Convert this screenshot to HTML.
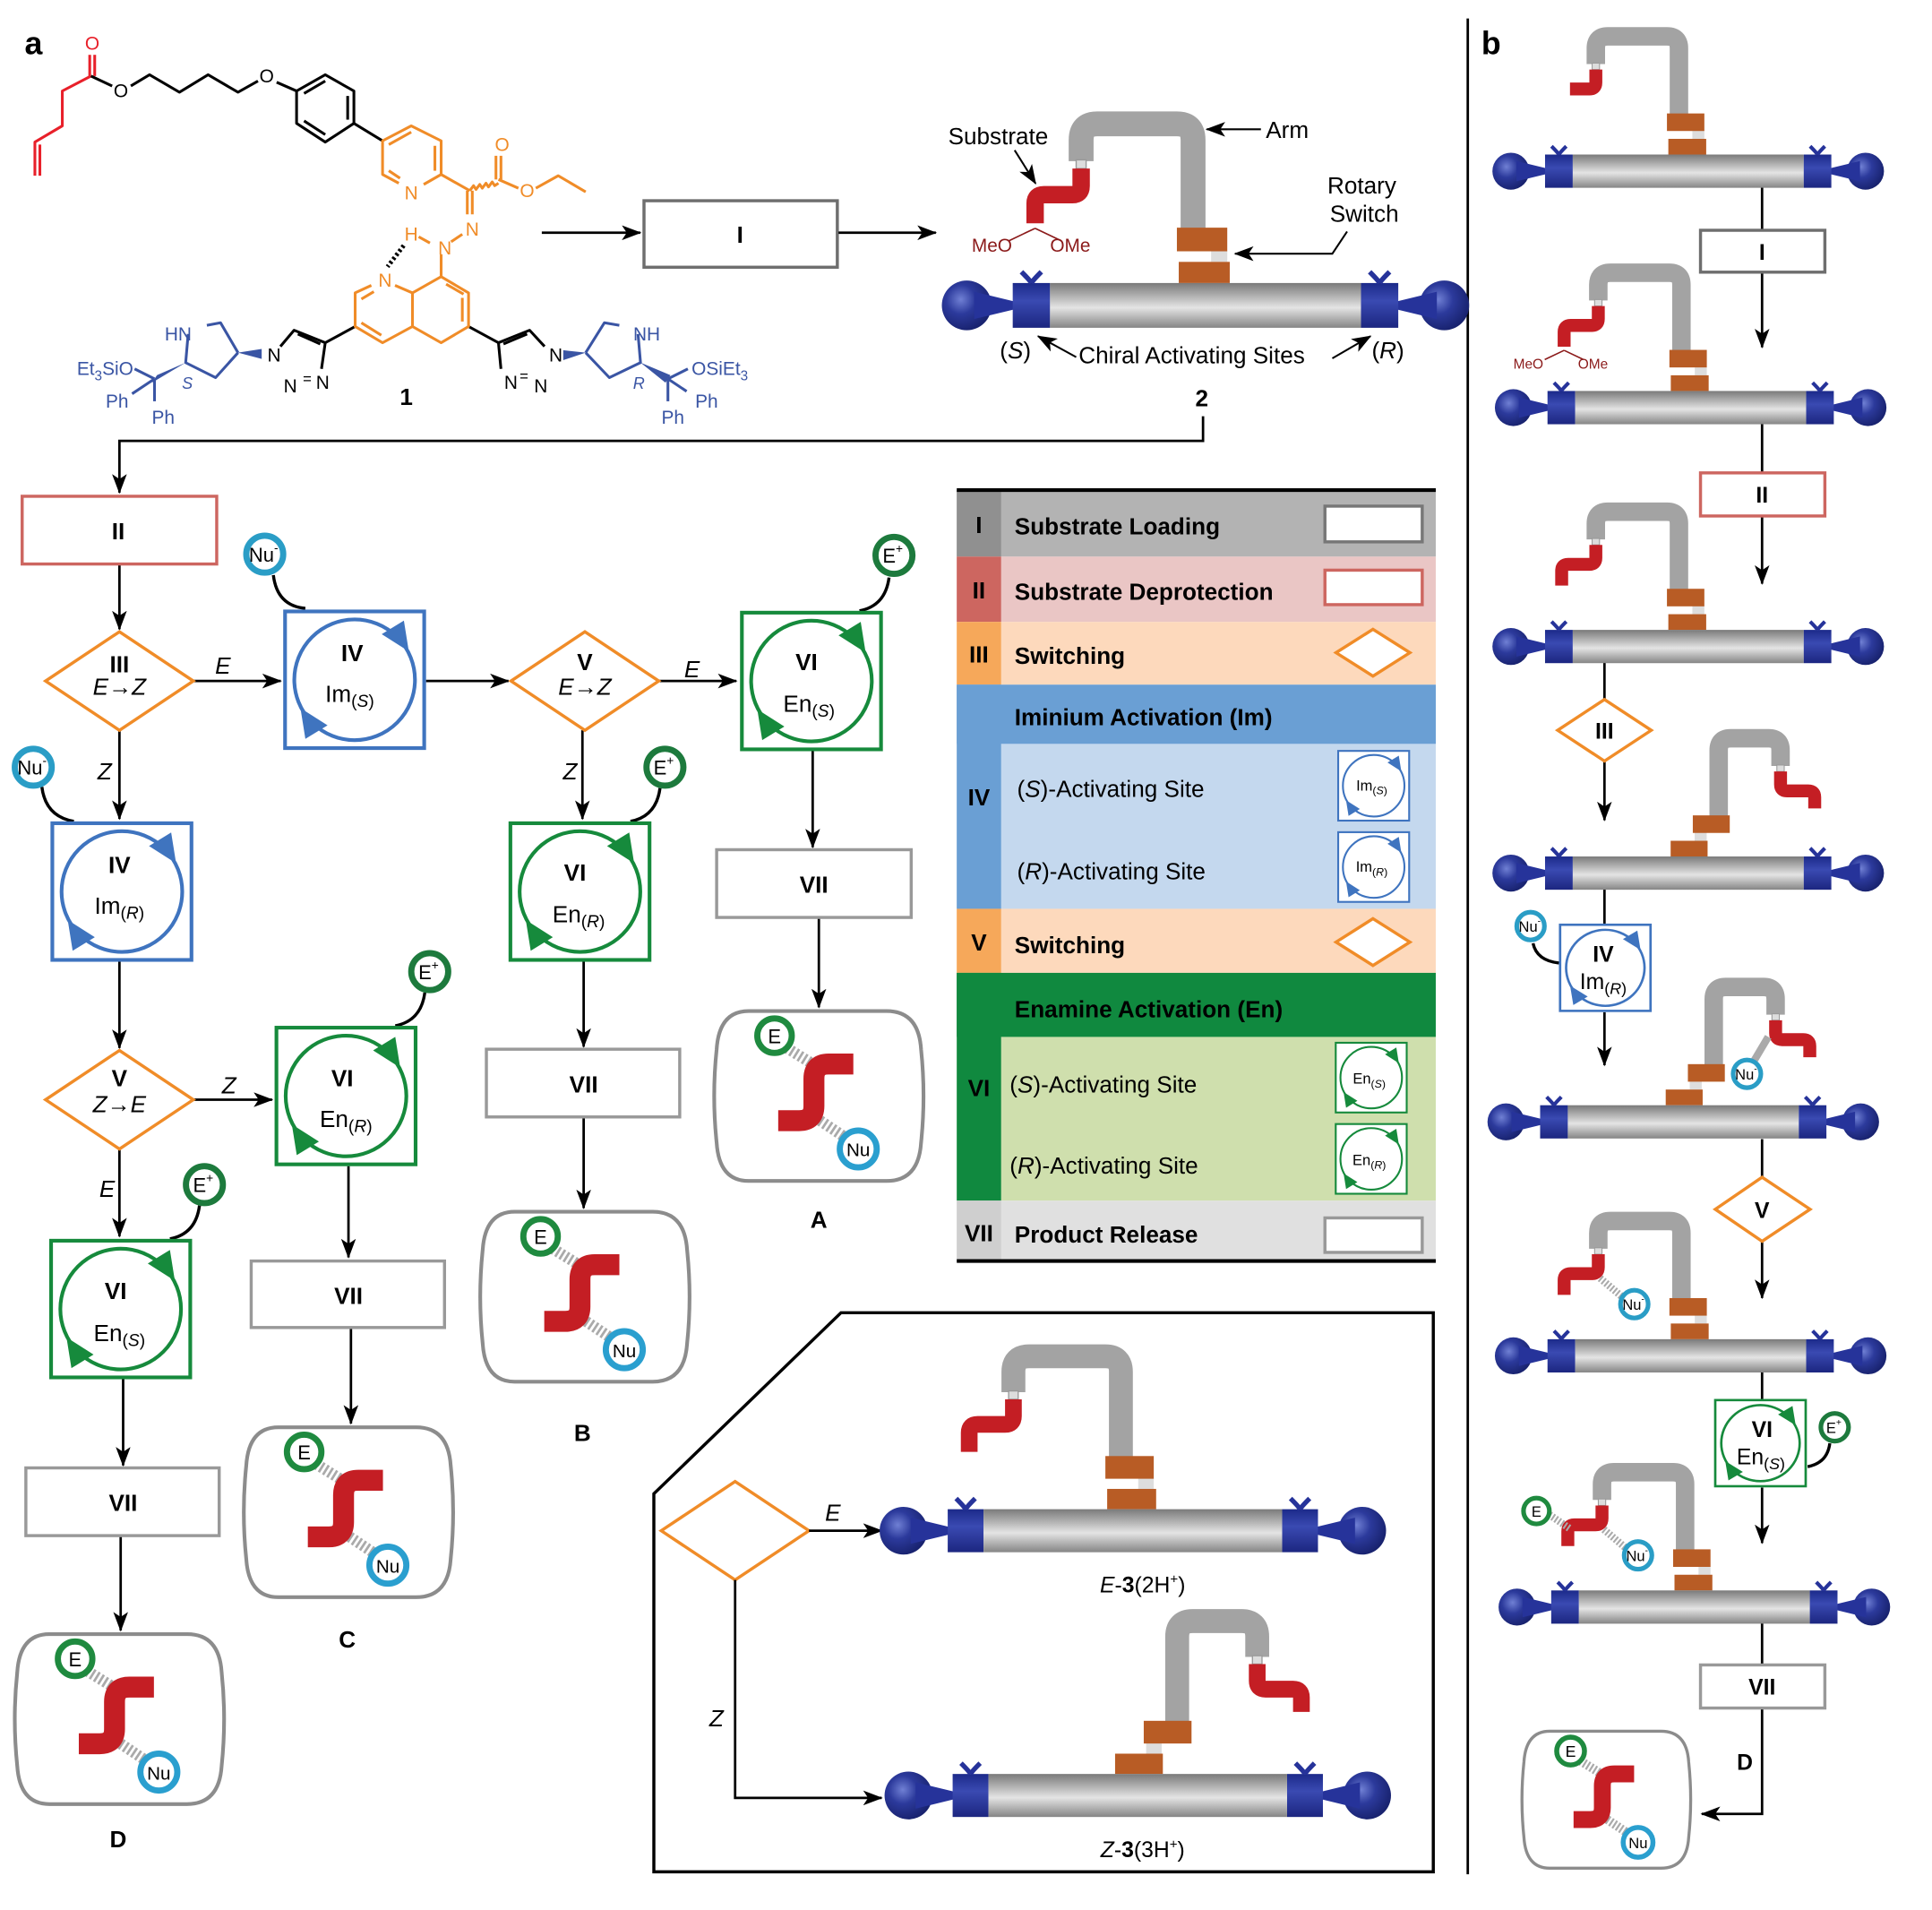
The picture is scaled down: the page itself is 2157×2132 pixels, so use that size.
<!DOCTYPE html>
<html><head><meta charset="utf-8"><style>html,body{margin:0;padding:0;background:#fff}svg{display:block}</style></head><body>
<svg xmlns="http://www.w3.org/2000/svg" width="2157" height="2132" viewBox="0 0 1569 1551" preserveAspectRatio="none" font-family="Liberation Sans, sans-serif">
<defs>
<marker id="ah" markerUnits="userSpaceOnUse" markerWidth="16" markerHeight="12" refX="15" refY="6" orient="auto"><path d="M0,0 L16,6 L0,12 L4,6z" fill="#000"/></marker>
<linearGradient id="tubeg" x1="0" y1="0" x2="0" y2="1"><stop offset="0" stop-color="#7a7a7a"/><stop offset=".35" stop-color="#bdbdbd"/><stop offset=".55" stop-color="#e4e4e4"/><stop offset="1" stop-color="#858585"/></linearGradient>
<linearGradient id="capg" x1="0" y1="0" x2="0" y2="1"><stop offset="0" stop-color="#1c2a8a"/><stop offset=".4" stop-color="#3a4ab2"/><stop offset="1" stop-color="#1c2680"/></linearGradient>
<radialGradient id="ballg" cx=".38" cy=".38" r=".65"><stop offset="0" stop-color="#7080d4"/><stop offset=".45" stop-color="#2c3a9c"/><stop offset="1" stop-color="#18226e"/></radialGradient>
<g id="rotor">
 <circle cx="-192" cy="0" r="20" fill="url(#ballg)"/>
 <polygon points="-186,-11 -153,-3 -153,3 -186,11" fill="#26339a"/>
 <rect x="-155" y="-18" width="30" height="36" fill="url(#capg)"/>
 <path d="M-148,-27 Q-141,-20 -140,-18 M-132,-27 Q-139,-20 -140,-18" stroke="#26339a" stroke-width="4" fill="none"/>
 <circle cx="192" cy="0" r="20" fill="url(#ballg)"/>
 <polygon points="186,-11 153,-3 153,3 186,11" fill="#26339a"/>
 <rect x="125" y="-18" width="30" height="36" fill="url(#capg)"/>
 <path d="M148,-27 Q141,-20 140,-18 M132,-27 Q139,-20 140,-18" stroke="#26339a" stroke-width="4" fill="none"/>
 <rect x="-125" y="-18" width="250" height="36" fill="url(#tubeg)"/>
</g>
<g id="armL">
 <path d="M-100,-116 V-133 Q-100,-146 -87,-146 H-23 Q-10,-146 -10,-133 V-61" stroke="#a3a3a3" stroke-width="20" fill="none"/>
 <rect x="-104" y="-117" width="8" height="7" fill="#ddd" stroke="#999" stroke-width="1"/>
 <rect x="4.5" y="-44" width="13" height="9" fill="#ddd"/>
 <rect x="-23" y="-62.5" width="40.5" height="19" fill="#b85c25"/>
 <rect x="-21.5" y="-35" width="41" height="17" fill="#b85c25"/>
</g>
<g id="armR">
 <path d="M100,-116 V-133 Q100,-146 87,-146 H46 Q33,-146 33,-133 V-61" stroke="#a3a3a3" stroke-width="20" fill="none"/>
 <rect x="96" y="-117" width="8" height="7" fill="#ddd" stroke="#999" stroke-width="1"/>
 <rect x="7" y="-44" width="13" height="9" fill="#ddd"/>
 <rect x="5" y="-62.5" width="40" height="19" fill="#b85c25"/>
 <rect x="-19" y="-35" width="40" height="17" fill="#b85c25"/>
</g>
<path id="redL" d="M-100,-110 V-96 Q-100,-89 -107,-89 H-130 Q-137,-89 -137,-82 V-66" stroke="#c41e24" stroke-width="14" fill="none"/>
<path id="redR" d="M100,-110 V-96 Q100,-89 107,-89 H130 Q137,-89 137,-82 V-70" stroke="#c41e24" stroke-width="14" fill="none"/>
<g id="cyc">
 <rect x="1.5" y="1.5" width="113" height="111" fill="#fff" stroke="currentColor" stroke-width="3"/>
 <circle cx="58" cy="57" r="49" fill="none" stroke="currentColor" stroke-width="3"/>
 <polygon points="102,34 98,9 80,20" fill="currentColor"/>
 <polygon points="14,80 18,105 36,94" fill="currentColor"/>
</g>
<g id="nu"><circle r="15" fill="#fff" stroke="#2a9dc6" stroke-width="5"/><text x="-1" y="6" font-size="16" text-anchor="middle">Nu<tspan font-size="10" dy="-8">-</tspan></text></g>
<g id="ep"><circle r="15" fill="#fff" stroke="#1d7a3d" stroke-width="5"/><text x="-1" y="6" font-size="16" text-anchor="middle">E<tspan font-size="10" dy="-8">+</tspan></text></g>
<g id="prod">
 <path d="M28,1 H140 Q166,1 168,32 Q172,70 168,108 Q166,139 140,139 H28 Q4,139 2,108 Q-2,70 2,32 Q4,1 28,1Z" fill="#fff" stroke="#8c8c8c" stroke-width="3"/>
 <line x1="59" y1="31" x2="80" y2="44" stroke="#aaa" stroke-width="9" stroke-dasharray="2,2"/>
 <line x1="86" y1="90" x2="107" y2="104" stroke="#aaa" stroke-width="9" stroke-dasharray="2,2"/>
 <path d="M52,90 H69 Q81,90 81,78 V56 Q81,44 93,44 H113" stroke="#c41e24" stroke-width="17" fill="none"/>
 <circle cx="49" cy="21" r="14" fill="#fff" stroke="#1f8a3f" stroke-width="5"/><text x="49" y="27" font-size="16" text-anchor="middle">E</text>
 <circle cx="117" cy="113" r="15" fill="#fff" stroke="#2a9fcf" stroke-width="5"/><text x="117" y="119" font-size="15" text-anchor="middle">Nu</text>
</g>
</defs>

<text x="20" y="44" font-size="26" font-weight="bold">a</text>
<text x="1203" y="44" font-size="26" font-weight="bold">b</text>
<line x1="1192" y1="15" x2="1192" y2="1522" stroke="#000" stroke-width="2"/>

<g transform="scale(1.012)" fill="none" stroke-width="2.2" stroke-linejoin="round" font-size="15">
 <g stroke="#e8202a"><polyline points="28,141 28,114 50,101 50,73 73,61"/><line x1="32" y1="141" x2="32" y2="116"/><line x1="72" y1="61" x2="72" y2="44"/><line x1="76" y1="61" x2="76" y2="44"/></g>
 <text x="74" y="40" fill="#e8202a" stroke="none" text-anchor="middle">O</text>
 <g stroke="#000"><line x1="73" y1="61" x2="90" y2="69"/><polyline points="105,69 120,60 144,74 167,60 191,74 207,65"/><line x1="222" y1="66" x2="238" y2="73"/>
 <polygon points="238,73 261,60 284,73 284,99 261,114 238,99"/><line x1="244" y1="75" x2="261" y2="65"/><line x1="279" y1="77" x2="279" y2="96"/><line x1="244" y1="97" x2="261" y2="108"/><line x1="284" y1="99" x2="307" y2="113"/>
 <line x1="285" y1="262" x2="261" y2="275"/><line x1="376" y1="262" x2="400" y2="275"/>
 <line x1="324" y1="197" x2="311" y2="214" stroke-dasharray="2,2" stroke-width="3.5"/>
 <polyline points="261,275 258,296"/><polyline points="261,275 236,265 225,278"/><line x1="239" y1="268" x2="257" y2="276"/>
 <polyline points="400,275 402,296"/><polyline points="400,275 425,265 437,278"/><line x1="404" y1="276" x2="423" y2="268"/></g>
 <g fill="#000" stroke="none"><text x="97" y="78" text-anchor="middle">O</text><text x="214" y="66" text-anchor="middle">O</text>
 <text x="220" y="290" text-anchor="middle">N</text><text x="233" y="315" text-anchor="middle">N</text><text x="243" y="308" font-size="12">=</text><text x="259" y="312" text-anchor="middle">N</text>
 <text x="446" y="290" text-anchor="middle">N</text><text x="410" y="312" text-anchor="middle">N</text><text x="417" y="306" font-size="12">=</text><text x="434" y="315" text-anchor="middle">N</text></g>
 <g stroke="#f08c28"><polyline points="320,147 307,140 307,113 330,101 354,113 354,140 340,148"/><line x1="312" y1="116" x2="330" y2="106"/><line x1="349" y1="117" x2="349" y2="137"/><line x1="312" y1="137" x2="321" y2="143"/>
 <line x1="354" y1="140" x2="377" y2="153"/><line x1="375" y1="153" x2="375" y2="172"/><line x1="379" y1="153" x2="379" y2="172"/>
 <path d="M377,153 l3,-4 l2,3 l3,-4 l2,3 l3,-4 l2,3 l3,-4 l2,3 l3,-2"/>
 <line x1="398" y1="144" x2="398" y2="125"/><line x1="402" y1="144" x2="402" y2="125"/><line x1="400" y1="144" x2="416" y2="151"/><polyline points="430,151 448,141 470,154"/>
 <line x1="336" y1="190" x2="345" y2="195"/><line x1="362" y1="194" x2="371" y2="188"/><line x1="354" y1="204" x2="354" y2="222"/>
 <polyline points="354,222 376,235 376,262 354,275 331,262 331,235 354,222"/><polyline points="317,229 331,235"/><polyline points="298,229 285,235 285,262 307,275 331,262"/>
 <line x1="371" y1="239" x2="371" y2="258"/><line x1="290" y1="240" x2="300" y2="234"/><line x1="290" y1="259" x2="306" y2="269"/><line x1="358" y1="228" x2="372" y2="236"/></g>
 <g fill="#f08c28" stroke="none"><text x="330" y="160" text-anchor="middle">N</text><text x="379" y="189" text-anchor="middle">N</text><text x="403" y="121" text-anchor="middle">O</text><text x="423" y="158" text-anchor="middle">O</text><text x="357" y="204" text-anchor="middle">N</text><text x="330" y="193" text-anchor="middle">H</text><text x="309" y="230" text-anchor="middle">N</text></g>
 <g stroke="#3a55a4"><polyline points="191,283 177,259 166,261"/><polyline points="151,268 149,291 173,303 191,283"/><line x1="124" y1="304" x2="108" y2="296"/><line x1="124" y1="304" x2="106" y2="316"/><line x1="124" y1="304" x2="124" y2="322"/>
 <polyline points="470,283 485,259 497,261"/><polyline points="512,268 514,291 489,303 470,283"/><line x1="536" y1="304" x2="552" y2="296"/><line x1="536" y1="304" x2="551" y2="314"/><line x1="536" y1="304" x2="536" y2="322"/></g>
 <g fill="#3a55a4" stroke="none"><polygon points="191,283 210,280 210,288"/><polygon points="149,291 126,301 122,307"/><polygon points="470,283 452,281 452,289"/><polygon points="514,291 538,301 534,307"/>
 <text x="143" y="273" text-anchor="middle">HN</text><text x="107" y="301" text-anchor="end">Et<tspan font-size="11" dy="4">3</tspan><tspan dy="-4">SiO</tspan></text><text x="94" y="327" text-anchor="middle">Ph</text><text x="131" y="340" text-anchor="middle">Ph</text><text x="146" y="312" font-size="13" font-style="italic">S</text>
 <text x="519" y="273" text-anchor="middle">NH</text><text x="555" y="301">OSiEt<tspan font-size="11" dy="4">3</tspan></text><text x="567" y="327" text-anchor="middle">Ph</text><text x="540" y="340" text-anchor="middle">Ph</text><text x="508" y="312" font-size="13" font-style="italic">R</text></g>
</g>
<text x="330" y="329" font-size="19" font-weight="bold" text-anchor="middle">1</text>

<line x1="440" y1="189" x2="520" y2="189" stroke="#000" stroke-width="2" marker-end="url(#ah)"/>
<rect x="523" y="163" width="157" height="54" fill="#fff" stroke="#6e6e6e" stroke-width="2.5"/>
<text x="601" y="197" font-size="19" font-weight="bold" text-anchor="middle">I</text>
<line x1="681" y1="189" x2="760" y2="189" stroke="#000" stroke-width="2" marker-end="url(#ah)"/>

<g transform="translate(979,248) scale(1.01)">
 <use href="#armL"/><use href="#redL"/><use href="#rotor"/>
 <line x1="-137" y1="-62" x2="-158" y2="-52" stroke="#8b1a1a" stroke-width="1.2"/><line x1="-137" y1="-62" x2="-116" y2="-52" stroke="#8b1a1a" stroke-width="1.2"/>
 <text x="-188" y="-43" font-size="15" fill="#8b1a1a">MeO</text><text x="-125" y="-43" font-size="15" fill="#8b1a1a">OMe</text>
</g>
<g font-size="19">
 <text x="770" y="117">Substrate</text>
 <line x1="824" y1="122" x2="841" y2="149" stroke="#000" stroke-width="1.5" marker-end="url(#ah)"/>
 <text x="1028" y="112">Arm</text>
 <line x1="1024" y1="105" x2="980" y2="105" stroke="#000" stroke-width="1.5" marker-end="url(#ah)"/>
 <text x="1078" y="157">Rotary</text><text x="1080" y="180">Switch</text>
 <polyline points="1094,188 1082,206 1003,206" fill="none" stroke="#000" stroke-width="1.5" marker-end="url(#ah)"/>
 <text x="812" y="291">(<tspan font-style="italic">S</tspan>)</text>
 <text x="876" y="295">Chiral Activating Sites</text>
 <line x1="874" y1="290" x2="843" y2="273" stroke="#000" stroke-width="1.5" marker-end="url(#ah)"/>
 <line x1="1082" y1="291" x2="1113" y2="273" stroke="#000" stroke-width="1.5" marker-end="url(#ah)"/>
 <text x="1114" y="291">(<tspan font-style="italic">R</tspan>)</text>
</g>
<text x="976" y="330" font-size="19" font-weight="bold" text-anchor="middle">2</text>

<g stroke="#000" stroke-width="2" fill="none">
 <polyline points="977,338 977,358 97,358 97,400" marker-end="url(#ah)"/>
 <line x1="97" y1="459" x2="97" y2="511" marker-end="url(#ah)"/>
 <line x1="157" y1="553" x2="228" y2="553" marker-end="url(#ah)"/>
 <line x1="346" y1="553" x2="413" y2="553" marker-end="url(#ah)"/>
 <line x1="535" y1="553" x2="598" y2="553" marker-end="url(#ah)"/>
 <line x1="660" y1="609" x2="660" y2="688" marker-end="url(#ah)"/>
 <line x1="665" y1="745" x2="665" y2="818" marker-end="url(#ah)"/>
 <line x1="473" y1="593" x2="473" y2="665" marker-end="url(#ah)"/>
 <line x1="474" y1="781" x2="474" y2="850" marker-end="url(#ah)"/>
 <line x1="474" y1="907" x2="474" y2="981" marker-end="url(#ah)"/>
 <line x1="97" y1="593" x2="97" y2="665" marker-end="url(#ah)"/>
 <line x1="97" y1="781" x2="97" y2="851" marker-end="url(#ah)"/>
 <line x1="157" y1="893" x2="221" y2="893" marker-end="url(#ah)"/>
 <line x1="283" y1="947" x2="283" y2="1021" marker-end="url(#ah)"/>
 <line x1="285" y1="1079" x2="285" y2="1156" marker-end="url(#ah)"/>
 <line x1="97" y1="933" x2="97" y2="1004" marker-end="url(#ah)"/>
 <line x1="100" y1="1120" x2="100" y2="1190" marker-end="url(#ah)"/>
 <line x1="98" y1="1248" x2="98" y2="1324" marker-end="url(#ah)"/>
 <path d="M222,467 Q225,492 248,494" stroke-width="2.5"/>
 <path d="M722,469 Q719,492 698,496" stroke-width="2.5"/>
 <path d="M536,640 Q533,663 512,667" stroke-width="2.5"/>
 <path d="M34,639 Q37,663 60,667" stroke-width="2.5"/>
 <path d="M345,806 Q342,829 321,833" stroke-width="2.5"/>
 <path d="M162,979 Q159,1002 138,1006" stroke-width="2.5"/>
</g>
<rect x="18" y="403" width="158" height="55" fill="#fff" stroke="#cd6660" stroke-width="2.5"/>
<text x="96" y="438" font-size="19" font-weight="bold" text-anchor="middle">II</text>
<g fill="#fff" stroke="#f08c28" stroke-width="2.5">
 <polygon points="97,513 157,553 97,593 37,553"/>
 <polygon points="475,513 535,553 475,593 415,553"/>
 <polygon points="97,853 157,893 97,933 37,893"/>
</g>
<g font-size="19" text-anchor="middle">
 <text x="97" y="546" font-weight="bold">III</text><text x="97" y="564"><tspan font-style="italic">E</tspan>→<tspan font-style="italic">Z</tspan></text>
 <text x="475" y="544" font-weight="bold">V</text><text x="475" y="564"><tspan font-style="italic">E</tspan>→<tspan font-style="italic">Z</tspan></text>
 <text x="97" y="882" font-weight="bold">V</text><text x="97" y="903"><tspan font-style="italic">Z</tspan>→<tspan font-style="italic">E</tspan></text>
 <g font-style="italic"><text x="181" y="547">E</text><text x="562" y="550">E</text><text x="463" y="633">Z</text><text x="85" y="633">Z</text><text x="186" y="888">Z</text><text x="87" y="972">E</text></g>
</g>
<use href="#cyc" x="230" y="495" style="color:#3f74bf"/>
<use href="#cyc" x="41" y="667" style="color:#3f74bf"/>
<use href="#cyc" x="601" y="496" style="color:#168a3c"/>
<use href="#cyc" x="413" y="667" style="color:#168a3c"/>
<use href="#cyc" x="223" y="833" style="color:#168a3c"/>
<use href="#cyc" x="40" y="1006" style="color:#168a3c"/>
<g font-size="19" text-anchor="middle">
 <text x="286" y="537" font-weight="bold">IV</text><text x="284" y="570">Im<tspan font-size="14" dy="4">(<tspan font-style="italic">S</tspan>)</tspan></text>
 <text x="97" y="709" font-weight="bold">IV</text><text x="97" y="742">Im<tspan font-size="14" dy="4">(<tspan font-style="italic">R</tspan>)</tspan></text>
 <text x="655" y="544" font-weight="bold">VI</text><text x="657" y="578">En<tspan font-size="14" dy="4">(<tspan font-style="italic">S</tspan>)</tspan></text>
 <text x="467" y="715" font-weight="bold">VI</text><text x="470" y="749">En<tspan font-size="14" dy="4">(<tspan font-style="italic">R</tspan>)</tspan></text>
 <text x="278" y="882" font-weight="bold">VI</text><text x="281" y="915">En<tspan font-size="14" dy="4">(<tspan font-style="italic">R</tspan>)</tspan></text>
 <text x="94" y="1055" font-weight="bold">VI</text><text x="97" y="1089">En<tspan font-size="14" dy="4">(<tspan font-style="italic">S</tspan>)</tspan></text>
</g>
<use href="#nu" x="215" y="450"/><use href="#nu" x="27" y="623"/>
<use href="#ep" x="726" y="451"/><use href="#ep" x="540" y="623"/><use href="#ep" x="349" y="789"/><use href="#ep" x="166" y="962"/>
<g fill="#fff" stroke="#999" stroke-width="2.5">
 <rect x="582" y="690" width="158" height="55"/><rect x="395" y="852" width="157" height="55"/><rect x="204" y="1024" width="157" height="54"/><rect x="21" y="1192" width="157" height="55"/>
</g>
<g font-size="19" font-weight="bold" text-anchor="middle">
 <text x="661" y="725">VII</text><text x="474" y="887">VII</text><text x="283" y="1059">VII</text><text x="100" y="1227">VII</text>
 <text x="665" y="997">A</text><text x="473" y="1170">B</text><text x="282" y="1338">C</text><text x="96" y="1500">D</text>
</g>
<use href="#prod" x="580" y="820"/><use href="#prod" x="390" y="983"/><use href="#prod" x="198" y="1158"/><use href="#prod" x="12" y="1326"/>

<g>
 <rect x="777" y="398" width="389" height="54" fill="#b3b3b3"/><rect x="777" y="398" width="36" height="54" fill="#909090"/>
 <rect x="777" y="452" width="389" height="53" fill="#eac6c5"/><rect x="777" y="452" width="36" height="53" fill="#cd6660"/>
 <rect x="777" y="505" width="389" height="51" fill="#fdd9bc"/><rect x="777" y="505" width="36" height="51" fill="#f6a85a"/>
 <rect x="777" y="556" width="389" height="182" fill="#c4d8ee"/><rect x="777" y="556" width="389" height="48" fill="#6a9fd4"/><rect x="777" y="556" width="36" height="182" fill="#6a9fd4"/>
 <rect x="777" y="738" width="389" height="52" fill="#fdd9bc"/><rect x="777" y="738" width="36" height="52" fill="#f6a85a"/>
 <rect x="777" y="790" width="389" height="185" fill="#cfdfad"/><rect x="777" y="790" width="389" height="52" fill="#10893f"/><rect x="777" y="790" width="36" height="185" fill="#10893f"/>
 <rect x="777" y="975" width="389" height="49" fill="#e0e0e0"/><rect x="777" y="975" width="36" height="49" fill="#cfcfcf"/>
 <line x1="777" y1="398" x2="1166" y2="398" stroke="#000" stroke-width="3"/><line x1="777" y1="1024" x2="1166" y2="1024" stroke="#000" stroke-width="3"/>
</g>
<g font-size="19" font-weight="bold">
 <text x="795" y="433" text-anchor="middle">I</text><text x="795" y="486" text-anchor="middle">II</text><text x="795" y="538" text-anchor="middle">III</text>
 <text x="795" y="654" text-anchor="middle">IV</text><text x="795" y="772" text-anchor="middle">V</text><text x="795" y="890" text-anchor="middle">VI</text><text x="795" y="1008" text-anchor="middle">VII</text>
 <text x="824" y="434">Substrate Loading</text><text x="824" y="487">Substrate Deprotection</text><text x="824" y="539">Switching</text>
 <text x="824" y="589">Iminium Activation (Im)</text><text x="824" y="774">Switching</text><text x="824" y="826">Enamine Activation (En)</text><text x="824" y="1009">Product Release</text>
</g>
<g font-size="19">
 <text x="826" y="647">(<tspan font-style="italic">S</tspan>)-Activating Site</text>
 <text x="826" y="714">(<tspan font-style="italic">R</tspan>)-Activating Site</text>
 <text x="820" y="887">(<tspan font-style="italic">S</tspan>)-Activating Site</text>
 <text x="820" y="953">(<tspan font-style="italic">R</tspan>)-Activating Site</text>
</g>
<rect x="1076" y="411" width="79" height="29" fill="#fff" stroke="#777" stroke-width="2.5"/>
<rect x="1076" y="463" width="79" height="28" fill="#fff" stroke="#cd6660" stroke-width="2.5"/>
<rect x="1076" y="989" width="79" height="28" fill="#fff" stroke="#999" stroke-width="2.5"/>
<polygon points="1115,511 1145,530 1115,549 1085,530" fill="#fff" stroke="#f08c28" stroke-width="2.5"/>
<polygon points="1115,746 1145,765 1115,784 1085,765" fill="#fff" stroke="#f08c28" stroke-width="2.5"/>
<use href="#cyc" transform="translate(1086,609) scale(0.51)" style="color:#3f74bf"/>
<use href="#cyc" transform="translate(1086,675) scale(0.51)" style="color:#3f74bf"/>
<use href="#cyc" transform="translate(1084,846) scale(0.51)" style="color:#168a3c"/>
<use href="#cyc" transform="translate(1084,912) scale(0.51)" style="color:#168a3c"/>
<g font-size="12" text-anchor="middle">
 <text x="1114" y="642">Im<tspan font-size="9" dy="3">(<tspan font-style="italic">S</tspan>)</tspan></text>
 <text x="1114" y="708">Im<tspan font-size="9" dy="3">(<tspan font-style="italic">R</tspan>)</tspan></text>
 <text x="1112" y="880">En<tspan font-size="9" dy="3">(<tspan font-style="italic">S</tspan>)</tspan></text>
 <text x="1112" y="946">En<tspan font-size="9" dy="3">(<tspan font-style="italic">R</tspan>)</tspan></text>
</g>

<polygon points="531,1520 531,1213 683,1066 1164,1066 1164,1520" fill="none" stroke="#000" stroke-width="2.5"/>
<polygon points="597,1203 657,1243 597,1283 537,1243" fill="#fff" stroke="#f08c28" stroke-width="2.5"/>
<line x1="657" y1="1243" x2="716" y2="1243" stroke="#000" stroke-width="2" marker-end="url(#ah)"/>
<polyline points="597,1283 597,1460 716,1460" fill="none" stroke="#000" stroke-width="2" marker-end="url(#ah)"/>
<text x="670" y="1235" font-size="19" font-style="italic">E</text><text x="576" y="1402" font-size="19" font-style="italic">Z</text>
<g transform="translate(920,1243) scale(0.97)"><use href="#armL"/><use href="#redL"/><use href="#rotor"/></g>
<g transform="translate(924,1458) scale(0.97)"><use href="#armR"/><use href="#redR"/><use href="#rotor"/></g>
<text x="928" y="1293" font-size="18" text-anchor="middle"><tspan font-style="italic">E</tspan>-<tspan font-weight="bold">3</tspan>(2H<tspan font-size="11" dy="-7">+</tspan><tspan dy="7">)</tspan></text>
<text x="928" y="1508" font-size="18" text-anchor="middle"><tspan font-style="italic">Z</tspan>-<tspan font-weight="bold">3</tspan>(3H<tspan font-size="11" dy="-7">+</tspan><tspan dy="7">)</tspan></text>

<g stroke="#000" stroke-width="2" fill="none">
 <line x1="1431" y1="152" x2="1431" y2="187"/>
 <line x1="1431" y1="221" x2="1431" y2="282" marker-end="url(#ah)"/>
 <line x1="1431" y1="344" x2="1431" y2="384"/>
 <line x1="1431" y1="419" x2="1431" y2="474" marker-end="url(#ah)"/>
 <line x1="1303" y1="538" x2="1303" y2="568"/>
 <line x1="1303" y1="618" x2="1303" y2="666" marker-end="url(#ah)"/>
 <line x1="1303" y1="722" x2="1303" y2="750"/>
 <line x1="1303" y1="822" x2="1303" y2="865" marker-end="url(#ah)"/>
 <line x1="1431" y1="925" x2="1431" y2="956"/>
 <line x1="1431" y1="1008" x2="1431" y2="1054" marker-end="url(#ah)"/>
 <line x1="1431" y1="1114" x2="1431" y2="1136"/>
 <line x1="1431" y1="1208" x2="1431" y2="1253" marker-end="url(#ah)"/>
 <line x1="1431" y1="1318" x2="1431" y2="1352"/>
 <polyline points="1431,1387 1431,1473 1382,1473" marker-end="url(#ah)"/>
 <path d="M1245,766 Q1248,780 1266,782" stroke-width="2.5"/>
 <path d="M1486,1172 Q1484,1188 1468,1191" stroke-width="2.5"/>
</g>
<rect x="1381" y="187" width="101" height="34" fill="#fff" stroke="#6e6e6e" stroke-width="2.5"/>
<rect x="1381" y="384" width="101" height="35" fill="#fff" stroke="#cd6660" stroke-width="2.5"/>
<rect x="1381" y="1352" width="101" height="35" fill="#fff" stroke="#999" stroke-width="2.5"/>
<polygon points="1303,568 1341,593 1303,618 1265,593" fill="#fff" stroke="#f08c28" stroke-width="2.5"/>
<polygon points="1431,956 1470,982 1431,1008 1393,982" fill="#fff" stroke="#f08c28" stroke-width="2.5"/>
<use href="#cyc" transform="translate(1266,750) scale(0.65,0.63)" style="color:#3f74bf"/>
<use href="#cyc" transform="translate(1392,1136) scale(0.65,0.63)" style="color:#168a3c"/>
<g font-size="18" font-weight="bold" text-anchor="middle">
 <text x="1431" y="211">I</text><text x="1431" y="408">II</text><text x="1303" y="600">III</text><text x="1431" y="989">V</text><text x="1431" y="1376">VII</text><text x="1417" y="1437">D</text>
</g>
<g font-size="18" text-anchor="middle">
 <text x="1302" y="781" font-weight="bold">IV</text><text x="1302" y="803">Im<tspan font-size="13" dy="4">(<tspan font-style="italic">R</tspan>)</tspan></text>
 <text x="1431" y="1167" font-weight="bold">VI</text><text x="1430" y="1189">En<tspan font-size="13" dy="4">(<tspan font-style="italic">S</tspan>)</tspan></text>
</g>
<g transform="translate(1243,752) scale(0.75)"><use href="#nu"/></g>
<g transform="translate(1490,1159) scale(0.75)"><use href="#ep"/></g>

<g transform="translate(1371,139) scale(0.75)"><use href="#armL"/><path d="M-100,-110 V-96 Q-100,-89 -107,-89 H-128" stroke="#c41e24" stroke-width="14" fill="none"/><use href="#rotor"/></g>
<g transform="translate(1373,331) scale(0.75)"><use href="#armL"/><use href="#redL"/><use href="#rotor"/>
 <line x1="-137" y1="-62" x2="-158" y2="-52" stroke="#8b1a1a" stroke-width="1.5"/><line x1="-137" y1="-62" x2="-116" y2="-52" stroke="#8b1a1a" stroke-width="1.5"/>
 <text x="-192" y="-42" font-size="15" fill="#8b1a1a">MeO</text><text x="-122" y="-42" font-size="15" fill="#8b1a1a">OMe</text></g>
<g transform="translate(1371,525) scale(0.75)"><use href="#armL"/><use href="#redL"/><use href="#rotor"/></g>
<g transform="translate(1371,709) scale(0.75)"><use href="#armR"/><use href="#redR"/><use href="#rotor"/></g>
<g transform="translate(1367,911) scale(0.75)"><use href="#armR"/><use href="#redR"/><use href="#rotor"/>
 <line x1="92" y1="-92" x2="70" y2="-55" stroke="#aaa" stroke-width="8"/><use href="#nu" x="69" y="-52"/></g>
<g transform="translate(1373,1101) scale(0.75)"><use href="#armL"/><use href="#redL"/><use href="#rotor"/>
 <line x1="-98" y1="-84" x2="-72" y2="-62" stroke="#aaa" stroke-width="8" stroke-dasharray="2,2"/><use href="#nu" x="-61" y="-56"/></g>
<g transform="translate(1376,1305) scale(0.75)"><use href="#armL"/><use href="#redL"/><use href="#rotor"/>
 <line x1="-98" y1="-84" x2="-72" y2="-62" stroke="#aaa" stroke-width="8" stroke-dasharray="2,2"/><use href="#nu" x="-61" y="-56"/>
 <line x1="-157" y1="-100" x2="-135" y2="-85" stroke="#aaa" stroke-width="8" stroke-dasharray="2,2"/>
 <circle cx="-171" cy="-104" r="14" fill="#fff" stroke="#1f8a3f" stroke-width="5"/><text x="-171" y="-98" font-size="16" text-anchor="middle">E</text></g>
<g transform="translate(1236,1405) scale(0.806)"><use href="#prod"/></g>
</svg>
</body></html>
